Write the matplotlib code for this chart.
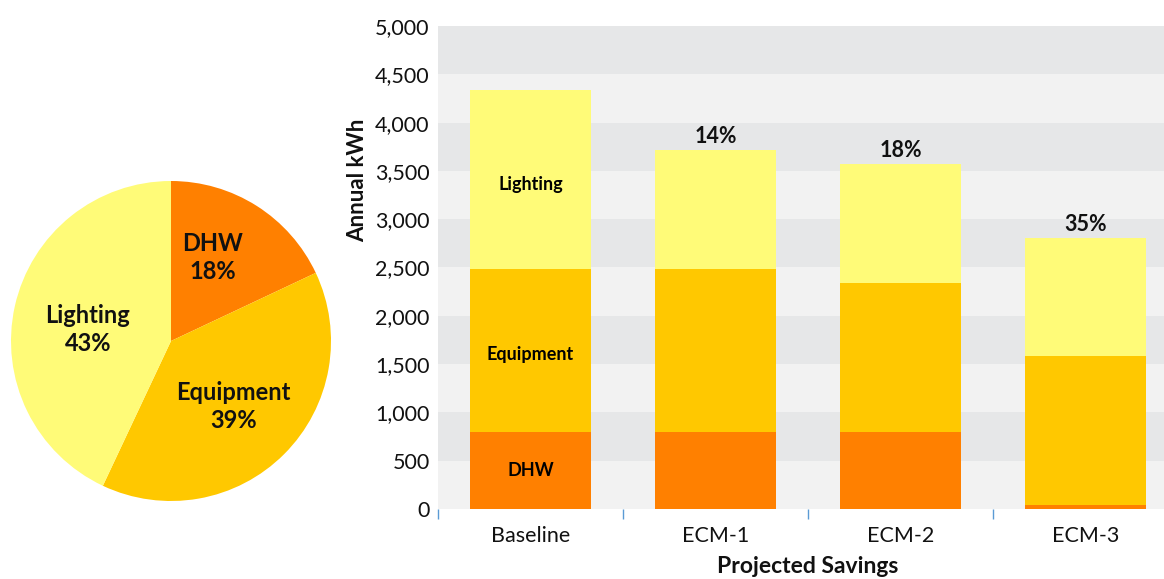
import matplotlib
matplotlib.use("Agg")
import matplotlib.pyplot as plt
from matplotlib.ticker import FuncFormatter

plt.rcParams["font.family"] = ["Lato", "DejaVu Sans"]

# pie data
pie_labels = ["DHW", "Equipment", "Lighting"]
pie_shares = [18, 39, 43]

# bar data
scenarios = ["Baseline", "ECM-1", "ECM-2", "ECM-3"]
dhw = [800, 800, 800, 40]
equipment = [1680, 1680, 1540, 1540]
lighting = [1860, 1240, 1230, 1230]
savings = ["", "14%", "18%", "35%"]

colors = {"DHW": "#FF8000", "Equipment": "#FFC800", "Lighting": "#FFFB78"}

fig = plt.figure(figsize=(11.64, 5.79), dpi=100)

# pie: centre (171, 341) px, radius 160 px
pax = fig.add_axes([11 / 1164, 1 - 501 / 579, 320 / 1164, 320 / 579])
wedges, _ = pax.pie(pie_shares, colors=[colors[l] for l in pie_labels],
                    startangle=90, counterclock=False, radius=1.0)
pax.set_xlim(-1, 1)
pax.set_ylim(-1, 1)
pax.set_aspect("equal")
label_pos = [(0.26, 0.52), (0.39, -0.41), (-0.52, 0.07)]
for name, share, (lx, ly) in zip(pie_labels, pie_shares, label_pos):
    pax.text(lx, ly, f"{name}\n{share}%", ha="center", va="center",
             fontsize=17, fontweight="bold", linespacing=1.25, color="#111111")

# stacked bars
ax = fig.add_axes([0.3763, 0.1209, 0.6237, 0.8342])
for lo in range(0, 5000, 500):
    ax.axhspan(lo, lo + 500, color="#e6e7e8" if (lo // 500) % 2 else "#f2f2f2",
               lw=0, zorder=0)

x = list(range(len(scenarios)))
w = 0.65
bottom_eq = dhw
bottom_li = [d + e for d, e in zip(dhw, equipment)]
ax.bar(x, dhw, w, color=colors["DHW"], zorder=2)
ax.bar(x, equipment, w, bottom=bottom_eq, color=colors["Equipment"], zorder=2)
ax.bar(x, lighting, w, bottom=bottom_li, color=colors["Lighting"], zorder=2)

# segment labels on baseline bar
ax.text(0, dhw[0] / 2, "DHW", ha="center", va="center", fontsize=13, fontweight="bold")
ax.text(0, dhw[0] + equipment[0] / 2 - 40, "Equipment", ha="center", va="center",
        fontsize=13, fontweight="bold")
ax.text(0, bottom_li[0] + lighting[0] / 2 - 50, "Lighting", ha="center", va="center",
        fontsize=13, fontweight="bold")

for xi, top, s in zip(x, [b + l for b, l in zip(bottom_li, lighting)], savings):
    if s:
        ax.text(xi, top + 30, s, ha="center", va="bottom", fontsize=15.5,
                fontweight="bold", color="#111111")

ax.set_xlim(-0.5, 3.424)
ax.set_ylim(0, 5000)
ax.set_yticks(range(0, 5001, 500))
ax.yaxis.set_major_formatter(FuncFormatter(lambda v, p: f"{int(v):,}"))
ax.set_xticks(x)
ax.set_xticklabels(scenarios)
ax.set_xticks([-0.5, 0.5, 1.5, 2.5], minor=True)
ax.tick_params(axis="x", which="major", length=0, pad=12, labelsize=15.5, colors="#111111")
ax.tick_params(axis="x", which="minor", length=7, width=1, color="#5b9bd5", direction="out")
ax.tick_params(axis="y", length=0, pad=6, labelsize=15.5, colors="#111111")
for sp in ax.spines.values():
    sp.set_visible(False)

fig.text(358 / 1164, 1 - 180 / 579, "Annual kWh", rotation=90, ha="center", va="center",
         fontsize=16, fontweight="bold", color="#111111")
ax.text((808 - 438) / 726, -0.12, "Projected Savings", transform=ax.transAxes,
        ha="center", va="center", fontsize=16.5, fontweight="bold", color="#111111")

fig.savefig("out.png", dpi=100, facecolor="white")
